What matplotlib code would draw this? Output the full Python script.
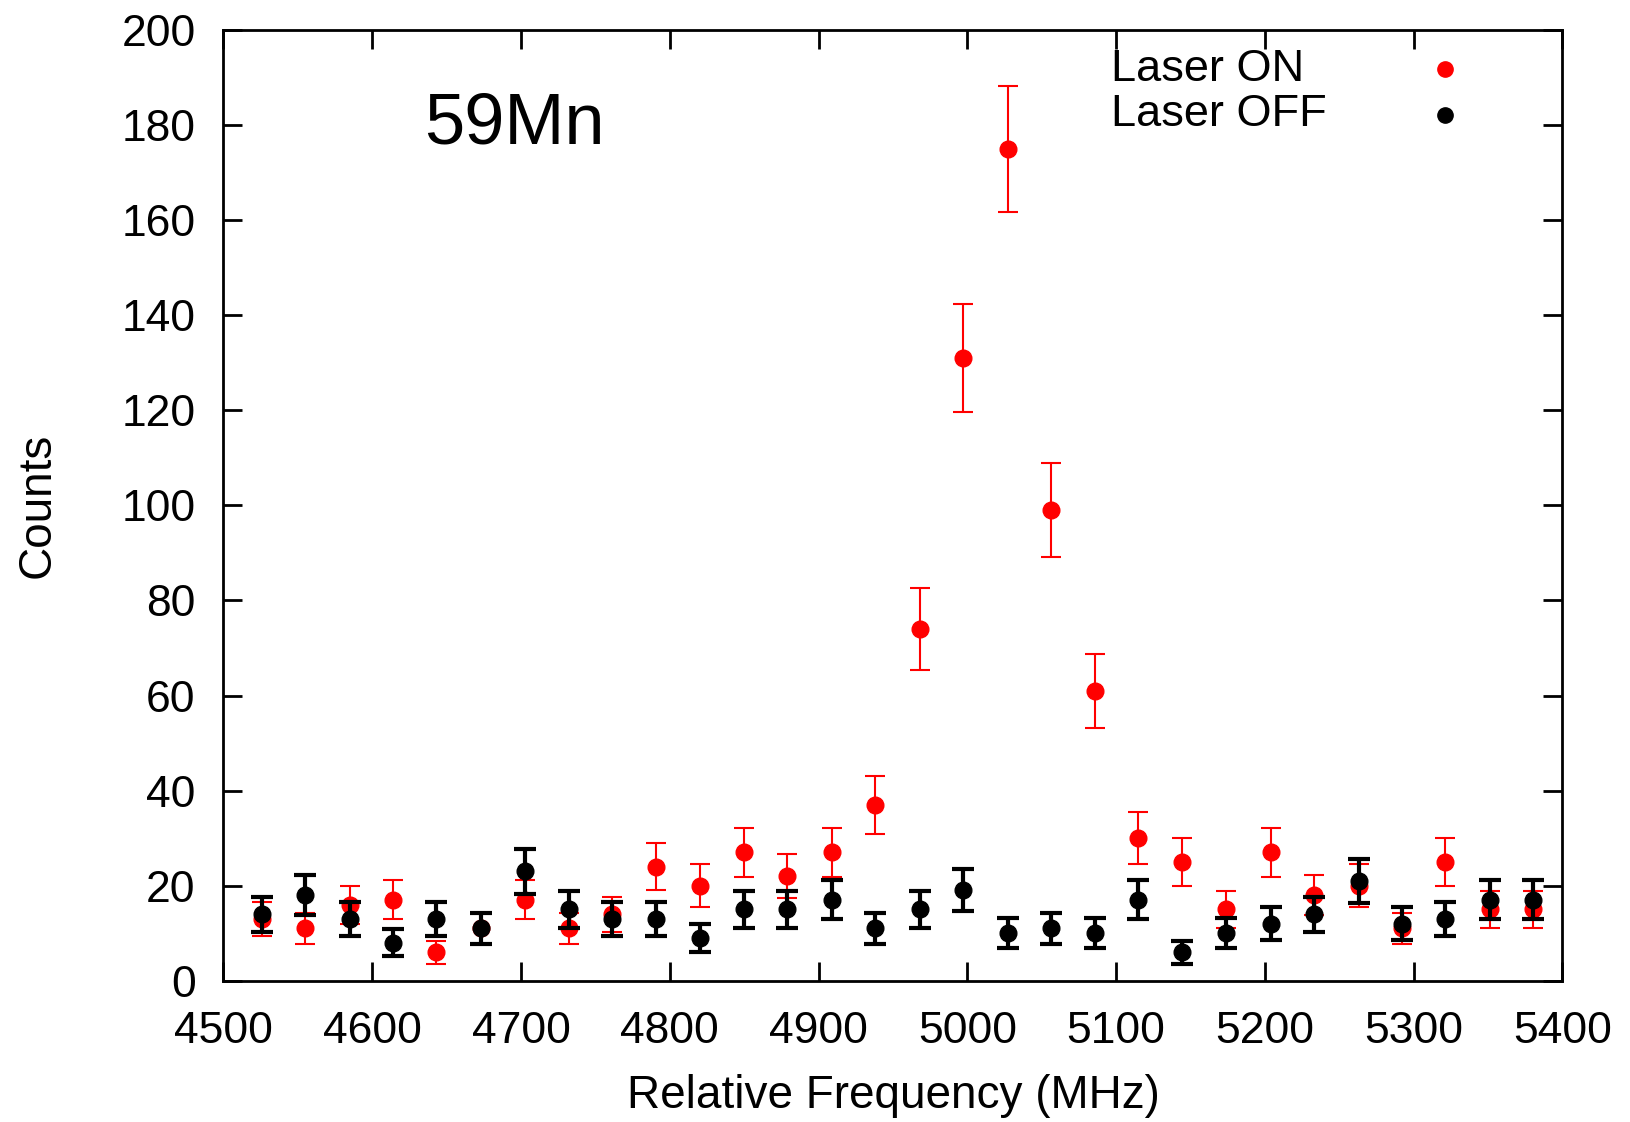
import numpy as np
import matplotlib
matplotlib.use("Agg")
import matplotlib.pyplot as plt

plt.rcParams["font.family"] = ["Liberation Sans", "DejaVu Sans"]

freq = [4526, 4555, 4585, 4614, 4643, 4673, 4703, 4732, 4761, 4791,
        4820, 4850, 4879, 4909, 4938, 4968, 4997, 5027, 5056, 5086,
        5115, 5144, 5174, 5204, 5233, 5263, 5292, 5321, 5351, 5380]

on_counts = [13, 11, 16, 17, 6, 11, 17, 11, 14, 24,
             20, 27, 22, 27, 37, 74, 131, 175, 99, 61,
             30, 25, 15, 27, 18, 20, 11, 25, 15, 15]
on_err = [3.6, 3.3, 4.0, 4.1, 2.4, 3.3, 4.1, 3.3, 3.7, 4.9,
          4.5, 5.2, 4.7, 5.2, 6.1, 8.6, 11.4, 13.2, 9.9, 7.8,
          5.5, 5.0, 3.9, 5.2, 4.2, 4.5, 3.3, 5.0, 3.9, 3.9]

off_counts = [14, 18, 13, 8, 13, 11, 23, 15, 13, 13,
              9, 15, 15, 17, 11, 15, 19, 10, 11, 10,
              17, 6, 10, 12, 14, 21, 12, 13, 17, 17]
off_err = [3.7, 4.2, 3.6, 2.8, 3.6, 3.3, 4.8, 3.9, 3.6, 3.6,
           3.0, 3.9, 3.9, 4.1, 3.3, 3.9, 4.4, 3.2, 3.3, 3.2,
           4.1, 2.4, 3.2, 3.5, 3.7, 4.6, 3.5, 3.6, 4.1, 4.1]

labels = ["Laser ON", "Laser OFF"]
colors = ["#ff0000", "black"]

fig = plt.figure(figsize=(16.31, 11.22), dpi=100)
ax = fig.add_axes([0.137, 0.126, 0.821, 0.847])

ax.errorbar(freq, on_counts, yerr=on_err, fmt="o", color=colors[0],
            ms=12, elinewidth=1.5, capsize=7, capthick=1.5, zorder=3)
ax.errorbar(freq, off_counts, yerr=off_err, fmt="o", color=colors[1],
            ms=12, elinewidth=3, capsize=8, capthick=3, zorder=4)

ax.set_xlim(4500, 5400)
ax.set_ylim(0, 200)
ax.set_xticks(np.arange(4500, 5401, 100))
ax.set_yticks(np.arange(0, 201, 20))
ax.tick_params(direction="in", length=14, width=2, labelsize=32,
               top=True, right=True)
ax.tick_params(axis="x", pad=22)
ax.tick_params(axis="y", pad=20)
for s in ax.spines.values():
    s.set_linewidth(2)

ax.set_xlabel("Relative Frequency (MHz)", fontsize=33)
ax.set_ylabel("Counts", fontsize=33)
ax.xaxis.set_label_coords(0.5, -0.121)
ax.xaxis.label.set_va("center")
ax.yaxis.set_label_coords(-0.139, 0.5)
ax.yaxis.label.set_va("center")

ax.text(0.150, 0.900, "59Mn", transform=ax.transAxes, fontsize=52,
        ha="left", va="center")

# gnuplot-style key: text left, marker on the right
for i, (lab, c) in enumerate(zip(labels, colors)):
    yk = 0.959 - i * 0.048
    ax.text(0.6625, yk, lab, transform=ax.transAxes, fontsize=32.5,
            ha="left", va="center")
    ax.plot([0.912], [yk], "o", color=c, ms=11, transform=ax.transAxes,
            clip_on=False)

fig.savefig("out.png", dpi=100)
